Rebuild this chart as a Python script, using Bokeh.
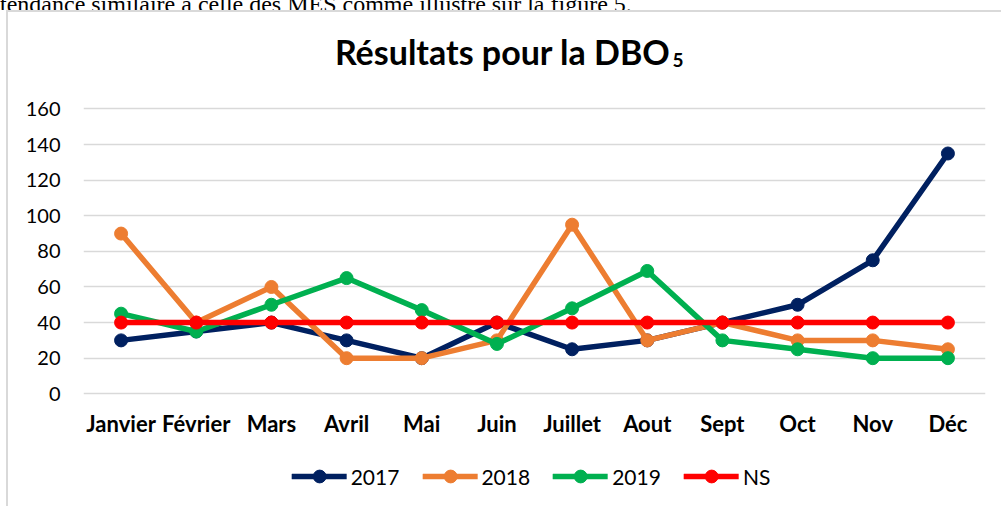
from bokeh.plotting import figure
from bokeh.models import (FactorRange, Range1d, Legend, LegendItem, Label,
                          FixedTicker, Div)
from bokeh.layouts import column
from bokeh.embed import file_html
from bokeh.resources import INLINE

months = ["Janvier", "Février", "Mars", "Avril", "Mai", "Juin",
          "Juillet", "Aout", "Sept", "Oct", "Nov", "Déc"]
s2017 = [30, 35, 40, 30, 20, 40, 25, 30, 40, 50, 75, 135]
s2018 = [90, 40, 60, 20, 20, 30, 95, 30, 40, 30, 30, 25]
s2019 = [45, 35, 50, 65, 47, 28, 48, 69, 30, 25, 20, 20]
ns = [40, 40, 40, 40, 40, 40, 40, 40, 40, 40, 40, 40]
y_ticks = [0, 20, 40, 60, 80, 100, 120, 140, 160]
series_names = ["2017", "2018", "2019", "NS"]
colors = ["#002060", "#ED7D31", "#00B050", "#FF0000"]
title_main = "Résultats pour la DBO"
title_sub = "5"
doc_text = "tendance similaire à celle des MES comme illustré sur la figure 5."

FONT = "Lato"
BORDER = "2px solid #D9D9D9"

top = Div(text=('<div style="font-family:\'Liberation Serif\';font-size:24px;'
                'line-height:24px;white-space:nowrap;margin-top:-13px;'
                'color:black;">' + doc_text + '</div>'),
          width=1001, height=10, margin=0,
          styles={"overflow": "hidden"})

p = figure(frame_width=900, frame_height=386,
           x_range=FactorRange(*months, range_padding=0),
           y_range=Range1d(-3.78, 214.21),
           output_backend="svg", toolbar_location=None,
           min_border_left=75, min_border_right=18,
           min_border_top=0, min_border_bottom=108,
           margin=(0, 0, 0, 6),
           styles={"border-top": BORDER, "border-left": BORDER})
p.outline_line_color = None
p.background_fill_color = "white"
p.border_fill_color = "white"

p.xgrid.grid_line_color = None
p.ygrid.grid_line_color = "#D9D9D9"
p.ygrid.grid_line_width = 1.5
p.yaxis.ticker = FixedTicker(ticks=y_ticks)

for ax in (p.xaxis[0], p.yaxis[0]):
    ax.axis_line_color = None
    ax.major_tick_line_color = None
    ax.minor_tick_line_color = None
    ax.major_tick_out = 0
    ax.major_tick_in = 0
    ax.major_label_text_font = FONT
    ax.major_label_text_color = "black"

p.yaxis.major_label_text_font_size = "20px"
p.xaxis.major_label_text_font_size = "22px"
p.yaxis.major_label_standoff = 23
p.xaxis.major_label_standoff = 9
p.xaxis.major_label_text_font_style = "bold"

series = [s2017, s2018, s2019, ns]
for vals, col in zip(series, colors):
    p.line(x=months, y=vals, line_color=col, line_width=5.5,
           line_cap="round", line_join="round")
    p.scatter(x=months, y=vals, size=13, fill_color=col, line_color=col)

# Title
p.add_layout(Label(x=587, y=349, x_units="screen", y_units="screen",
                   text=title_main, text_align="right",
                   text_baseline="alphabetic", text_font=FONT,
                   text_font_style="bold", text_font_size="34px",
                   text_color="black"))
p.add_layout(Label(x=589, y=341, x_units="screen", y_units="screen",
                   text=title_sub, text_align="left",
                   text_baseline="alphabetic", text_font=FONT,
                   text_font_style="bold", text_font_size="19px",
                   text_color="black"))

# Legend strip (a frameless plot holding the legend, overlapping the blank
# area under the category labels)
lg = figure(width=993, height=60,
            x_range=FactorRange(*months, range_padding=0),
            y_range=Range1d(1000, 1001),
            output_backend="svg", toolbar_location=None,
            x_axis_location=None, y_axis_location=None,
            min_border_left=0, min_border_right=22,
            min_border_top=0, min_border_bottom=0,
            margin=(-60, 0, 0, 6),
            styles={"border-left": BORDER})
lg.outline_line_color = None
lg.grid.visible = False
lg.background_fill_color = "white"
lg.border_fill_color = "white"

items = []
for name, vals, col in zip(series_names, series, colors):
    ln = lg.line(x=months, y=vals, line_color=col, line_width=5.5,
                 line_cap="round", line_join="round")
    sc = lg.scatter(x=months, y=vals, size=13, fill_color=col, line_color=col)
    items.append(LegendItem(label=name, renderers=[ln, sc]))

legend = Legend(items=items, orientation="horizontal", location="center",
                glyph_width=55, glyph_height=32, label_height=32,
                label_text_font=FONT, label_text_font_size="21px",
                label_text_color="black",
                label_standoff=4, spacing=23, padding=0, margin=0,
                border_line_color=None, background_fill_alpha=0)
lg.add_layout(legend)

layout = column(top, p, lg, spacing=0)
open("out.html", "w").write(file_html(layout, INLINE))
